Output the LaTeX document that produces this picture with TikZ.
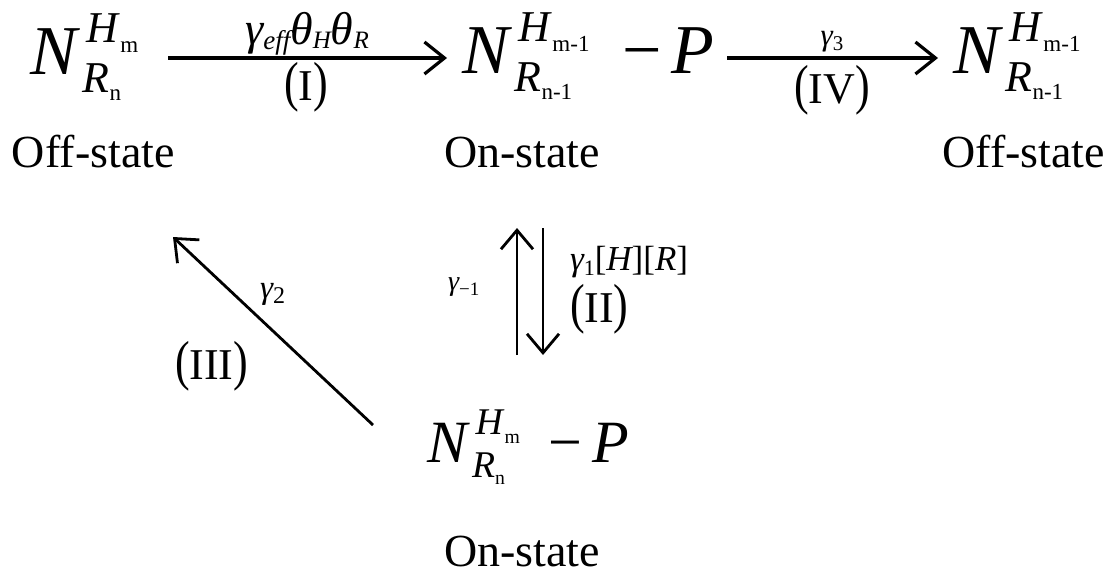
\documentclass[tikz,border=0pt]{standalone}
\usepackage{fontspec}
\setmainfont{Liberation Serif}
\usetikzlibrary{arrows.meta}
\newcommand\fN{\fontsize{70}{70}\selectfont}
\newcommand\fS{\fontsize{44}{44}\selectfont}
\newcommand\fSS{\fontsize{23}{23}\selectfont}
\newcommand\Ncore[2]{{\fN\itshape N}\hspace*{10pt}%
\rlap{\raisebox{32pt}{\fS\itshape H}\hspace*{2pt}\raisebox{22pt}{\fSS #1}}%
\hspace*{-4pt}\raisebox{-18pt}{\fS\itshape R}\raisebox{-26pt}{\fSS #2}}
\newcommand\subx[2]{\raisebox{-#1}{#2}}
\newcommand\tallp[1]{\scalebox{1}[1.25]{#1}}
\newcommand\rlab[1]{\tallp{(}#1\tallp{)}}
\begin{document}
\begin{tikzpicture}[x=1pt,y=-1pt,
  every node/.style={inner sep=0pt, outer sep=0pt},
  formula/.style={anchor=base west},
  state/.style={font=\fontsize{46}{46}\selectfont},
  roman/.style={font=\fontsize{44}{44}\selectfont},
  arr/.style={line width=3.2pt, -{Straight Barb[length=20pt,width=32pt,line width=3.2pt]}},
  arrthin/.style={line width=2.8pt, -{Straight Barb[length=19pt,width=32pt,line width=2.8pt]}}]
\useasboundingbox (0,0) rectangle (1115,574);
% formulas
\node[formula] (f1) at (30,74) {\Ncore{m}{n}};
\node[formula] (f2) at (462,73) {\Ncore{m-1}{n-1}\hspace*{50pt}{\fN −\hspace*{10pt}\itshape P}};
\node[formula] (f3) at (953,73) {\Ncore{m-1}{n-1}};
\node[formula, scale=0.857, transform shape] (f4) at (427,462) {\Ncore{m}{n}\hspace*{51pt}{\fN −\hspace*{12pt}\itshape P}};
% state labels
\node[state, anchor=base west] (s1) at (12,167) {Off-state};
\node[state, anchor=base] (s2) at (522,167) {On-state};
\node[state, anchor=base east] (s3) at (1105,167) {Off-state};
\node[state, anchor=base] (s4) at (522,566) {On-state};
% arrow end points
\coordinate (a1s) at (168,58);
\coordinate (a1e) at (447,58);
\coordinate (a4s) at (727,58);
\coordinate (a4e) at (938,58);
\coordinate (upb) at (517,355);
\coordinate (upt) at (517,228);
\coordinate (dnt) at (543,228);
\coordinate (dnb) at (543,355);
\coordinate (d3s) at (373,425);
\coordinate (d3e) at (173,237);
\draw[arr] (a1s) -- (a1e);
\draw[arr] (a4s) -- (a4e);
\draw[arrthin] (upb) -- (upt);
\draw[arrthin] (dnt) -- (dnb);
\draw[arrthin] (d3s) -- (d3e);
% arrow labels
\node[anchor=base] (l1) at (307,44) {\fontsize{46}{46}\selectfont\itshape γ\subx{5pt}{\fontsize{27}{27}\selectfont eff}θ\subx{4pt}{\fontsize{25}{25}\selectfont H}θ\subx{4pt}{\fontsize{25}{25}\selectfont R}};
\node[roman, anchor=base] (l1b) at (306,100) {\rlab{I}};
\node[anchor=base] (l4) at (832,45) {\fontsize{31}{31}\selectfont\itshape γ\subx{5pt}{\fontsize{21}{21}\selectfont\upshape 3}};
\node[roman, anchor=base] (l4b) at (832,103) {\rlab{IV}};
\node[anchor=base west] (l2a) at (448,290) {\fontsize{28}{28}\selectfont\itshape γ\subx{5pt}{\fontsize{19}{19}\selectfont\upshape −1}};
\node[anchor=base west] (l2b) at (570,270) {\fontsize{35}{35}\selectfont\itshape γ\subx{5pt}{\fontsize{22}{22}\selectfont\upshape 1}\upshape[\itshape H\upshape][\itshape R\upshape]};
\node[roman, anchor=base west] (l2c) at (570,322) {\rlab{II}};
\node[anchor=base west] (l3a) at (260,298) {\fontsize{33}{33}\selectfont\itshape γ\subx{5pt}{\fontsize{24}{24}\selectfont\upshape 2}};
\node[roman, anchor=base west] (l3b) at (175,379) {\rlab{III}};
\end{tikzpicture}
\end{document}
